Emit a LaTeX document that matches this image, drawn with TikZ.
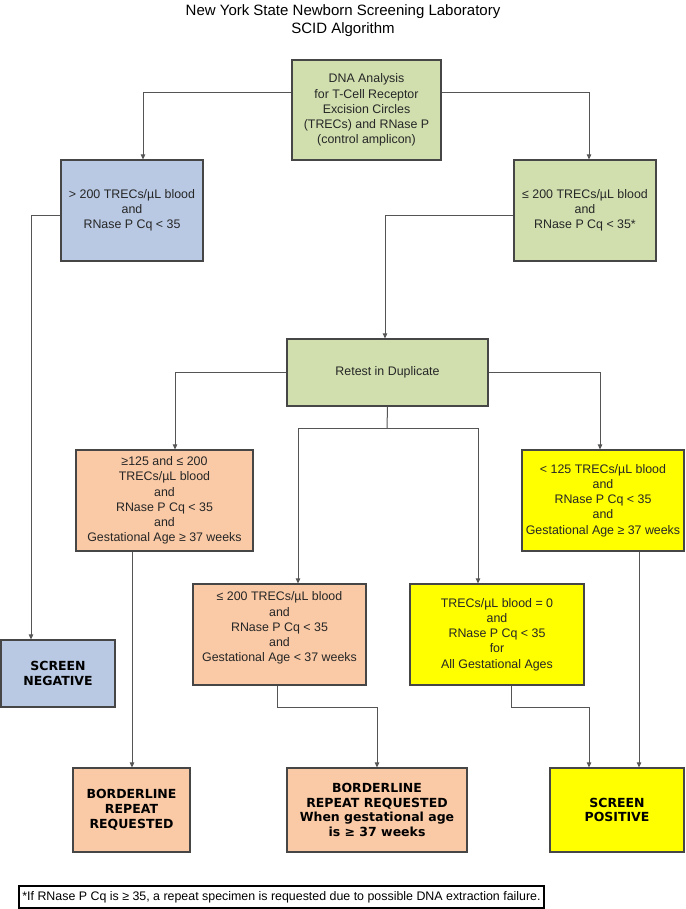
\documentclass[tikz,border=0pt]{standalone}
\usepackage{fontspec}
\setmainfont{Liberation Sans}
\newfontfamily\heavyfont{DejaVu Sans}
\usetikzlibrary{arrows.meta}
\definecolor{boxgreen}{RGB}{209,223,175}
\definecolor{boxblue}{RGB}{185,201,227}
\definecolor{boxorange}{RGB}{250,202,166}
\definecolor{boxyellow}{RGB}{255,255,0}
\definecolor{boxline}{RGB}{70,70,70}
\definecolor{linegray}{RGB}{85,85,85}
\tikzset{
  box/.style={draw=boxline, line width=1.2pt, align=center, inner sep=0pt, text=black!85,
    font=\fontsize{12.4}{15.2}\selectfont},
  sz/.style 2 args={minimum width=#1pt, minimum height=#2pt},
  grn/.style={box, fill=boxgreen},
  blu/.style={box, fill=boxblue},
  org/.style={box, fill=boxorange},
  ylw/.style={box, fill=boxyellow},
  res/.style={font=\heavyfont\bfseries\fontsize{12.5}{14.8}\selectfont, text=black},
  link/.style={draw=linegray, line width=1pt},
  arr/.style={link, -{Triangle[length=5pt,width=4.5pt]}},
}

\begin{document}
\begin{tikzpicture}[x=1pt,y=-1pt]
\useasboundingbox (0,0) rectangle (685,909);

\node[align=center, font=\fontsize{15}{18}\selectfont] (title) at (343,21)
  {New York State Newborn Screening Laboratory\\SCID Algorithm};

% first test
\node[grn,sz={149}{100}] (dna) at (366.5,110)
  {DNA Analysis\\for T-Cell Receptor\\Excision Circles\\(TRECs) and RNase P\\(control amplicon)};
\node[blu,sz={142}{101}] (hi) at (132,210.5)
  {> 200 TRECs/µL blood\\and\\RNase P Cq < 35};
\node[grn,sz={142}{101}] (lo) at (585,210.5)
  {≤ 200 TRECs/µL blood\\and\\RNase P Cq < 35*};

% retest
\node[grn,sz={201}{67}] (retest) at (387.5,372.5) {Retest in Duplicate};
\node[org,sz={177}{101}] (orA) at (164.5,500.5)
  {≥125 and ≤ 200\\TRECs/µL blood\\and\\RNase P Cq < 35\\and\\Gestational Age ≥ 37 weeks};
\node[ylw,sz={162}{101}] (ylA) at (603,500.5)
  {< 125 TRECs/µL blood\\and\\RNase P Cq < 35\\and\\Gestational Age ≥ 37 weeks};
\node[org,sz={173}{101}] (orB) at (279.5,634.5)
  {≤ 200 TRECs/µL blood\\and\\RNase P Cq < 35\\and\\Gestational Age < 37 weeks\\\mbox{}};
\node[ylw,sz={174}{101}] (ylB) at (497,634.5)
  {TRECs/µL blood = 0\\and\\RNase P Cq < 35\\for\\All Gestational Ages};

% results
\node[blu,res,sz={114}{67}] (scrneg) at (58,673.5) {SCREEN\\NEGATIVE};
\node[org,res,sz={117}{84}] (bord1) at (131.5,810) {BORDERLINE\\REPEAT\\REQUESTED};
\node[org,res,sz={180}{84}] (bord2) at (377,810)
  {BORDERLINE\\REPEAT REQUESTED\\When gestational age\\is ≥ 37 weeks};
\node[ylw,res,sz={134}{84}] (scrpos) at (617,810) {SCREEN\\POSITIVE};

\node[draw=black, line width=1.1pt, fill=white, inner sep=0pt, sz={525}{22},
  font=\fontsize{12.4}{14}\selectfont] (note) at (281.5,897)
  {*If RNase P Cq is ≥ 35, a repeat specimen is requested due to possible DNA extraction failure.};

% connectors
\coordinate (split) at (387,428);
\draw[arr] ([yshift=17pt]dna.west) -| ([xshift=11pt]hi.north);
\draw[arr] ([yshift=17pt]dna.east) -| ([xshift=4pt]lo.north);
\draw[arr] ([yshift=-5.5pt]hi.west) -| ([xshift=-27pt]scrneg.north);
\draw[arr] ([yshift=-5.5pt]lo.west) -| ([xshift=-2.5pt]retest.north);
\draw[arr] (retest.west) -| ([xshift=10.5pt]orA.north);
\draw[arr] (retest.east) -| ([xshift=-3pt]ylA.north);
\draw[link] (retest.south) -- (split);
\draw[arr] (split) -| ([xshift=18.5pt]orB.north);
\draw[arr] (split) -| ([xshift=-19pt]ylB.north);
\draw[arr] ([xshift=-32.5pt]orA.south) -- ([xshift=-32.5pt]orA.south |- bord1.north);
\draw[arr] ([xshift=-2.5pt]orB.south) -- ++(0,22) -| (bord2.north);
\draw[arr] ([xshift=14pt]ylB.south) -- ++(0,22) -| ([xshift=-28pt]scrpos.north);
\draw[arr] ([xshift=36pt]ylA.south) -- ([xshift=36pt]ylA.south |- scrpos.north);
\end{tikzpicture}
\end{document}
